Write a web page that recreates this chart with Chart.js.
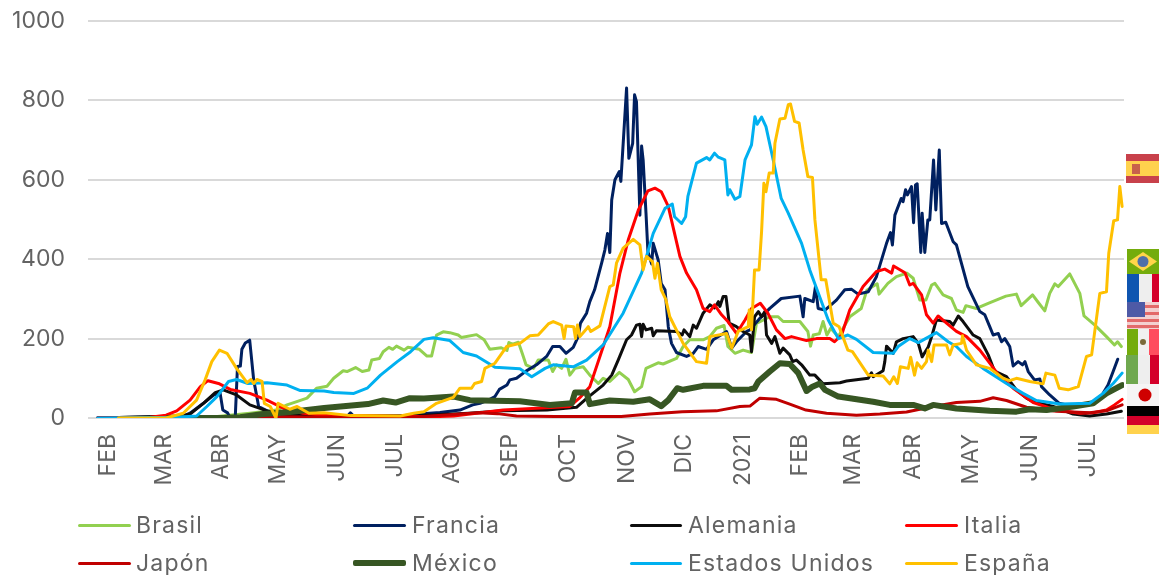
<!DOCTYPE html>
<html lang="es">
<head>
<meta charset="utf-8">
<title>Chart</title>
<script src="https://cdn.jsdelivr.net/npm/chart.js@4"></script>
<style>
html,body{margin:0;padding:0;background:#fff;overflow:hidden}
#wrap{position:relative;width:1159px;height:575px}
canvas{position:absolute;left:0;top:0}
.lg{position:absolute;font:400 23px Inter,sans-serif;color:#636363;white-space:nowrap;letter-spacing:1.2px;line-height:28px}
.key{position:absolute;border-radius:2px}
.flag{position:absolute}
</style>
</head>
<body>
<div id="wrap"><canvas id="c" width="1159" height="575"></canvas></div>
<script>
const monthDays=[10.5,40,70,100,131,161,191,221.5,252,283,313,344,374,402,433,463.5,494.5,525];
const monthLabels=["FEB","MAR","ABR","MAY","JUN","JUL","AGO","SEP","OCT","NOV","DIC","2021","FEB","MAR","ABR","MAY","JUN","JUL"];
const seriesNames=["Brasil","Francia","Alemania","Italia","Japón","México","Estados Unidos","España"];
const brasil=[[16,0],[60,0],[85,12],[99,20],[104.5,33],[110,42],[115,50],[120,75],[125.5,80],[129,100],[134,119],[136,117],[140.5,127],[144,117],[147.5,121],[149,146],[153,150],[155,167],[158,178],[160,173],[162,181],[166,171],[168,178],[174,173],[178,156],[180.4,156],[183,209],[186.5,217],[190,215],[194.4,209],[196,203],[204,210],[208,197],[211,173],[217,177],[220,170],[221,190],[223,186],[226,191],[228,163],[230,134],[234,125],[236.4,146],[241.7,146],[244,117],[246,134],[248.7,125],[251,148],[253,108],[255.7,125],[260,129],[263.5,108],[268,87],[270.5,100],[274,92],[279,115],[283.7,97],[287,66],[290.7,79],[293,125],[299.4,139],[302,136],[309,150],[312.5,180],[316,197],[323,197],[326.5,205],[330,226],[334,233],[336,180],[339.7,163],[344,171],[348.4,165],[351,238],[358,255],[362.4,255],[365,243],[373.8,243],[378,218],[379.4,181],[380.8,209],[384,212],[386,243],[388,209],[390,226],[394,205],[400,255],[406,276],[409,322],[412,331],[414.4,338],[415.4,312],[420,339],[424.5,356],[430,365],[433.3,352],[436.8,297],[440,297],[443,335],[444.7,339],[449,310],[453.4,301],[456,272],[459.5,266],[461,283],[466.5,276],[472.7,289],[482,307],[487.5,312],[490,283],[496,310],[499,291],[502.4,270],[505,314],[507.7,338],[509.5,331],[515.5,363],[520.8,314],[523,257],[528.7,234],[534.8,205],[539,184],[540.6,192],[542.6,180]];
const francia=[[5,0],[50,5],[53.6,12],[60.6,37],[66,58],[69.4,62],[70.8,20],[73.3,13],[74.7,0],[77.3,0],[78.5,130],[80,131],[80.8,173],[82.6,189],[84.9,196],[87,96],[89.6,29],[95.7,14],[106,5],[136,3],[137.8,13],[139.6,4],[164,5],[174,10],[184.8,14],[195.3,20],[202,33],[205.8,37],[211,47],[213.7,54],[216,72],[220,83],[221.5,96],[225,100],[230,118],[235.5,134],[240.8,155],[244,180],[247.8,180],[251,163],[254.8,178],[257.4,205],[258.6,239],[261.8,264],[263.5,293],[266,323],[269.7,390],[271.4,423],[272.8,465],[274,417],[275,549],[276.7,600],[279,621],[279.8,596],[282.8,831],[284,654],[286,692],[287,814],[288,797],[289.8,511],[290.7,685],[291.5,650],[293,516],[294,419],[296,388],[296.8,440],[299.4,398],[301,339],[303,323],[304.7,230],[306.4,188],[309,165],[314.3,155],[317.8,163],[320.4,180],[324.8,173],[328.3,197],[335.3,218],[338,176],[340.5,192],[345.8,218],[347.6,222],[352.8,251],[358,276],[364,301],[373.8,307],[375.5,255],[376.4,301],[380.8,293],[382,331],[383.4,276],[387,272],[393,297],[397.4,323],[401,324],[404.4,312],[409.7,318],[414,356],[419.3,440],[421.4,467],[422.4,436],[423.7,511],[427,553],[428,545],[429.3,575],[430.3,562],[432.4,583],[433.5,492],[434.5,587],[435.4,590],[437.3,417],[438,516],[439.4,417],[441,499],[442,499],[444,650],[445.2,524],[447,675],[448.2,490],[450.4,493],[454.3,444],[456,436],[462,331],[468.3,268],[470.9,260],[473.5,230],[475.3,209],[478,213],[479.7,192],[481.4,200],[484,180],[485.8,131],[488.4,142],[490.7,134],[492,142],[493.7,117],[497,96],[499.8,98],[500.7,79],[505,58],[510,37],[517.3,29],[527.8,37],[532,54],[535.6,83],[538.3,117],[540.7,148]];
const alemania=[[5,0],[50,5],[53.6,10],[60.6,37],[66.8,64],[71,71],[78,58],[85,33],[94,18],[106,8],[124,5],[174,6],[200,12],[218,18],[241,20],[256.5,27],[262,50],[270.5,83],[275,108],[278.4,146],[282.8,197],[285.4,209],[288,234],[289.8,236],[290.7,205],[291.5,236],[293,222],[296,226],[296.8,207],[298.5,220],[309,218],[312,209],[313,222],[316,205],[317.8,234],[319.5,226],[323,264],[326.5,285],[329,277],[331,293],[331.8,281],[333.5,306],[335,306],[336.7,239],[340.5,230],[344,218],[347.5,209],[348.4,167],[350,255],[352,268],[353.7,255],[355.4,268],[356.3,209],[359,188],[360.7,205],[363.3,163],[365,176],[368.5,159],[370,142],[372,146],[374.7,134],[379,108],[381.7,108],[386,86],[394.8,89],[398.3,93],[409.7,100],[411.4,114],[412.3,104],[417.5,119],[418.4,142],[419.3,181],[422.8,163],[424.5,192],[428,200],[433.3,205],[436,188],[438,154],[441.2,179],[443,205],[445.5,247],[452.5,243],[454.3,234],[457,257],[459.5,243],[464.8,209],[468.3,200],[472.7,159],[476,118],[482.3,104],[487.5,71],[492.8,50],[496.3,41],[506.8,29],[517.3,10],[526,5],[534.8,10],[542.6,17]];
const italia=[[5,0],[32.6,2],[41,7],[46.6,18],[53.6,45],[59,79],[63,94],[68.5,87],[74.7,72],[85,62],[94,45],[102.8,24],[113,12],[124,7],[180,3],[192,5],[218,20],[253,29],[258,50],[263.5,79],[268.8,155],[274,230],[279.3,365],[283.7,449],[289,524],[294,572],[297.7,579],[301,570],[304.7,533],[310.8,407],[314.3,365],[319.5,323],[323,276],[326.5,268],[329,285],[332.7,260],[336,243],[340.5,213],[345,247],[348.4,276],[353,289],[357,264],[361.5,222],[366,200],[369.4,205],[377.3,195],[382.5,200],[389.5,200],[392,192],[395.7,209],[400,272],[407,331],[414,369],[418.4,375],[422,365],[423,383],[429,366],[431.5,335],[433.3,339],[437.7,310],[440.3,260],[443.8,239],[446.4,257],[450.8,239],[456,218],[461.3,205],[468.3,171],[473.5,138],[478.8,104],[485.8,75],[496.3,39],[508.5,20],[520.8,12],[527.8,13],[534.8,20],[539,33],[543,47]];
const japon=[[5,0],[60,1],[80,3],[100,3],[140,1],[174,3],[190,8],[205,13],[215,11],[225,5],[245,4],[280,4],[295,10],[312,16],[330,18],[342.3,29],[347.6,30],[352.8,50],[361.5,47],[368.5,35],[377,20],[387.8,12],[403.5,7],[415.8,10],[429.8,15],[443.8,29],[456,39],[468.3,42],[475.3,51],[482.3,44],[492.8,27],[508.5,17],[526,13],[534.8,18],[543,33]];
const mexico=[[42,0],[71,0],[80,2],[92,10],[106,15],[124,25],[147,35],[155,44],[161.5,39],[169,50],[176.4,49],[192,54],[200.5,45],[226.8,42],[242.5,33],[254,37],[255.7,64],[261.8,64],[263.5,35],[274,44],[286.3,41],[295,47],[301,30],[304.7,45],[309.4,75],[312.5,71],[323,81],[335.3,81],[338,71],[347.5,72],[350,75],[352,92],[358,117],[363.3,138],[368.5,136],[373,113],[377.3,68],[380.4,79],[384.3,87],[387,71],[394,54],[412.3,41],[421,33],[433.3,33],[439.4,24],[443.8,33],[456,24],[473.5,18],[487.5,16],[494.5,22],[503.3,20],[517.3,29],[527.8,37],[534.8,62],[543,83]];
const estadosUnidos=[[5,0],[46.6,2],[57,5],[62.4,29],[67.7,54],[73.8,92],[78,97],[84,87],[94,89],[104.5,83],[111.5,69],[124,68],[129,64],[139.6,62],[146.6,75],[153.6,108],[162.4,142],[169.4,167],[176.4,198],[181.3,202],[190,195],[197,165],[204,156],[213.7,128],[226.8,124],[233,104],[240,125],[244.3,134],[254.8,129],[261.8,146],[270.5,184],[281,264],[290.7,365],[296.8,465],[303,528],[306.8,539],[308,507],[311.7,490],[313.8,507],[315,558],[319.5,642],[324.8,656],[326.5,650],[329,667],[331,657],[334.4,650],[336,562],[337,575],[339.7,551],[342.3,558],[345,650],[348.4,688],[350.2,759],[351.4,740],[353.7,758],[356,734],[359.8,650],[364,553],[367.7,516],[374.7,440],[379,373],[388.7,247],[394,200],[399,209],[403.5,198],[412.3,165],[422.8,163],[425.4,180],[431.5,200],[436,190],[445.5,215],[451.7,192],[456,180],[461.3,155],[470,125],[482.3,87],[491,62],[498,44],[510.3,35],[526,37],[533,62],[538.3,87],[543,113]];
const espana=[[16,0],[41,0],[50,12],[57,45],[61.5,96],[65,142],[69,171],[73,163],[78,125],[83.5,89],[85.6,97],[87,87],[88.7,97],[91.4,92],[92.6,37],[95.7,29],[98.7,0],[99.8,37],[106,22],[109.8,29],[116,12],[124,13],[138,6],[164,5],[171,12],[176.4,16],[183,37],[191.8,52],[195.3,75],[201.4,75],[203,87],[206.7,92],[208.4,125],[213.7,138],[219.8,180],[226.8,188],[232,207],[236.4,209],[241.7,237],[244.3,243],[248.7,234],[250,200],[251,232],[255,230],[256,200],[257,234],[258.3,205],[262.7,230],[264,218],[268.8,232],[274,331],[275.8,335],[277.5,390],[281,428],[286.3,450],[289.8,436],[291.5,373],[293.3,407],[296.4,394],[297.7,352],[299,390],[301,323],[303.4,299],[305.5,255],[312.5,188],[319.5,142],[324.8,138],[326.5,205],[335.3,213],[338,176],[341.4,218],[346.7,230],[347.2,272],[348.4,222],[350,373],[352.4,373],[353.7,470],[354.9,591],[356,570],[357.7,617],[359.8,617],[360.7,692],[363.3,753],[366,755],[367.7,789],[368.9,791],[371,747],[373.4,743],[375.5,675],[378,608],[380.4,606],[381.7,499],[385,348],[387.4,348],[391.3,239],[394.4,230],[399,171],[401.4,167],[409.7,108],[417.5,106],[421,86],[423.1,104],[425,87],[426.6,129],[430.7,125],[432,153],[434,108],[435.4,139],[437.7,125],[440.3,142],[441.2,171],[443,142],[444.3,184],[450.8,184],[452.5,159],[454.3,184],[458.7,188],[459.2,207],[461.3,171],[466.5,134],[473.5,125],[480.5,100],[484,94],[487.5,100],[494.5,92],[501.5,86],[503,113],[507.7,108],[510,75],[514.7,71],[520,79],[524.3,155],[527,159],[531.3,314],[534.8,318],[536,415],[538.6,497],[540.6,499],[541.8,583],[543,533]];
const seriesData=[brasil,francia,alemania,italia,japon,mexico,estadosUnidos,espana];
const seriesColors=["#92d050","#002060","#0d0d0d","#ff0000","#c00000","#375623","#00b0f0","#ffc000"];
const seriesWidths=[3,3,3,3,3,6,3,3];
const yTicks=[0,200,400,600,800,1000];

const fontFam='Inter, sans-serif';
const tickColor='#636363';
new Chart(document.getElementById('c'),{
  type:'line',
  data:{datasets:seriesNames.map((n,i)=>({
    label:n,
    data:seriesData[i].map(p=>({x:p[0],y:p[1]})),
    borderColor:seriesColors[i],
    borderWidth:seriesWidths[i],
    pointRadius:0,
    tension:0,
    fill:false,
    order:seriesNames.length-i,
    borderJoinStyle:'round',
    borderCapStyle:'round'
  }))},
  options:{
    responsive:false,
    animation:false,
    events:[],
    layout:{padding:{top:21,right:35,left:0,bottom:0}},
    plugins:{legend:{display:false},tooltip:{enabled:false},title:{display:false}},
    scales:{
      x:{
        type:'linear',min:0,max:544,
        afterBuildTicks:s=>{s.ticks=monthDays.map(v=>({value:v}));},
        afterFit:s=>{s.height=157;s.paddingLeft=0;s.paddingRight=0;},
        grid:{display:false,drawTicks:false},
        border:{display:false},
        ticks:{
          autoSkip:false,minRotation:90,maxRotation:90,padding:16,
          color:tickColor,font:{family:fontFam,size:23,weight:'400'},
          callback:(v,i)=>monthLabels[i]
        }
      },
      y:{
        min:0,max:1000,
        afterBuildTicks:s=>{s.ticks=yTicks.map(v=>({value:v}));},
        afterFit:s=>{s.width=88;s.paddingTop=0;s.paddingBottom=0;},
        grid:{color:'#d9d9d9',lineWidth:2,drawTicks:false},
        border:{display:false},
        ticks:{padding:23,color:tickColor,font:{family:fontFam,size:23,weight:'400'},callback:v=>String(v)}
      }
    }
  }
});

// legend in four aligned columns, two rows
const legendCols=[[78,131,136],[353,406,412],[630,682,688],[905,958,964]];
const legendRows=[525,563];
const wrap=document.getElementById('wrap');
seriesNames.forEach((n,i)=>{
  const col=legendCols[i%4],row=legendRows[Math.floor(i/4)];
  const k=document.createElement('div');k.className='key';
  const h=seriesWidths[i]>4?6:3;
  k.style.cssText=`left:${col[0]}px;width:${col[1]-col[0]}px;top:${row-h/2}px;height:${h}px;background:${seriesColors[i]}`;
  wrap.appendChild(k);
  const t=document.createElement('div');t.className='lg';t.textContent=n;
  t.style.left=col[2]+'px';t.style.top=(row-14)+'px';
  wrap.appendChild(t);
});

// flags column
const flags=[
 [1126,154,33,29,'<rect width="33" height="29" fill="#ffd24d"/><rect width="33" height="7" fill="#c8414b"/><rect y="22" width="33" height="7" fill="#c8414b"/><rect x="6" y="10" width="8" height="10" fill="#c8614b"/>'],
 [1127,249,32,25,'<rect width="32" height="25" fill="#74ac0c"/><path d="M16 3 30 12.5 16 22 2 12.5z" fill="#ffd54a"/><circle cx="16" cy="12.5" r="5.5" fill="#4f6fa8"/>'],
 [1127,274,32,28,'<rect width="32" height="28" fill="#eeeeee"/><rect width="12" height="28" fill="#0f55b0"/><rect x="25" width="7" height="28" fill="#d4002a"/>'],
 [1127,302,32,27,'<rect width="32" height="27" fill="#f3d0d0"/><rect y="3" width="32" height="3" fill="#e36a6a"/><rect y="10" width="32" height="3" fill="#e36a6a"/><rect y="17" width="32" height="3" fill="#e36a6a"/><rect y="23" width="32" height="3" fill="#e36a6a"/><rect width="18" height="15" fill="#4e5aa6"/>'],
 [1127,329,32,26,'<rect width="32" height="26" fill="#f0f0f0"/><rect width="11" height="26" fill="#74ac0c"/><rect x="22" width="10" height="26" fill="#ff4d5e"/><circle cx="16" cy="13" r="3" fill="#7a6a3a"/>'],
 [1126,355,33,29,'<rect width="33" height="29" fill="#eeeeee"/><rect width="12" height="29" fill="#6fa84f"/><rect x="24" width="9" height="29" fill="#d4002a"/>'],
 [1127,384,32,22,'<rect width="32" height="22" fill="#f5f5f5"/><circle cx="18" cy="11" r="6.5" fill="#cf0000"/>'],
 [1127,406,32,28,'<rect width="32" height="28" fill="#d4002a"/><rect width="32" height="10" fill="#000"/><rect y="19" width="32" height="9" fill="#ffd24d"/>']
];
flags.forEach(f=>{
  const d=document.createElement('div');d.className='flag';
  d.style.cssText=`left:${f[0]}px;top:${f[1]}px;width:${f[2]}px;height:${f[3]}px`;
  d.innerHTML=`<svg width="${f[2]}" height="${f[3]}" xmlns="http://www.w3.org/2000/svg" aria-hidden="true">${f[4]}</svg>`;
  wrap.appendChild(d);
});
</script>
</body>
</html>
